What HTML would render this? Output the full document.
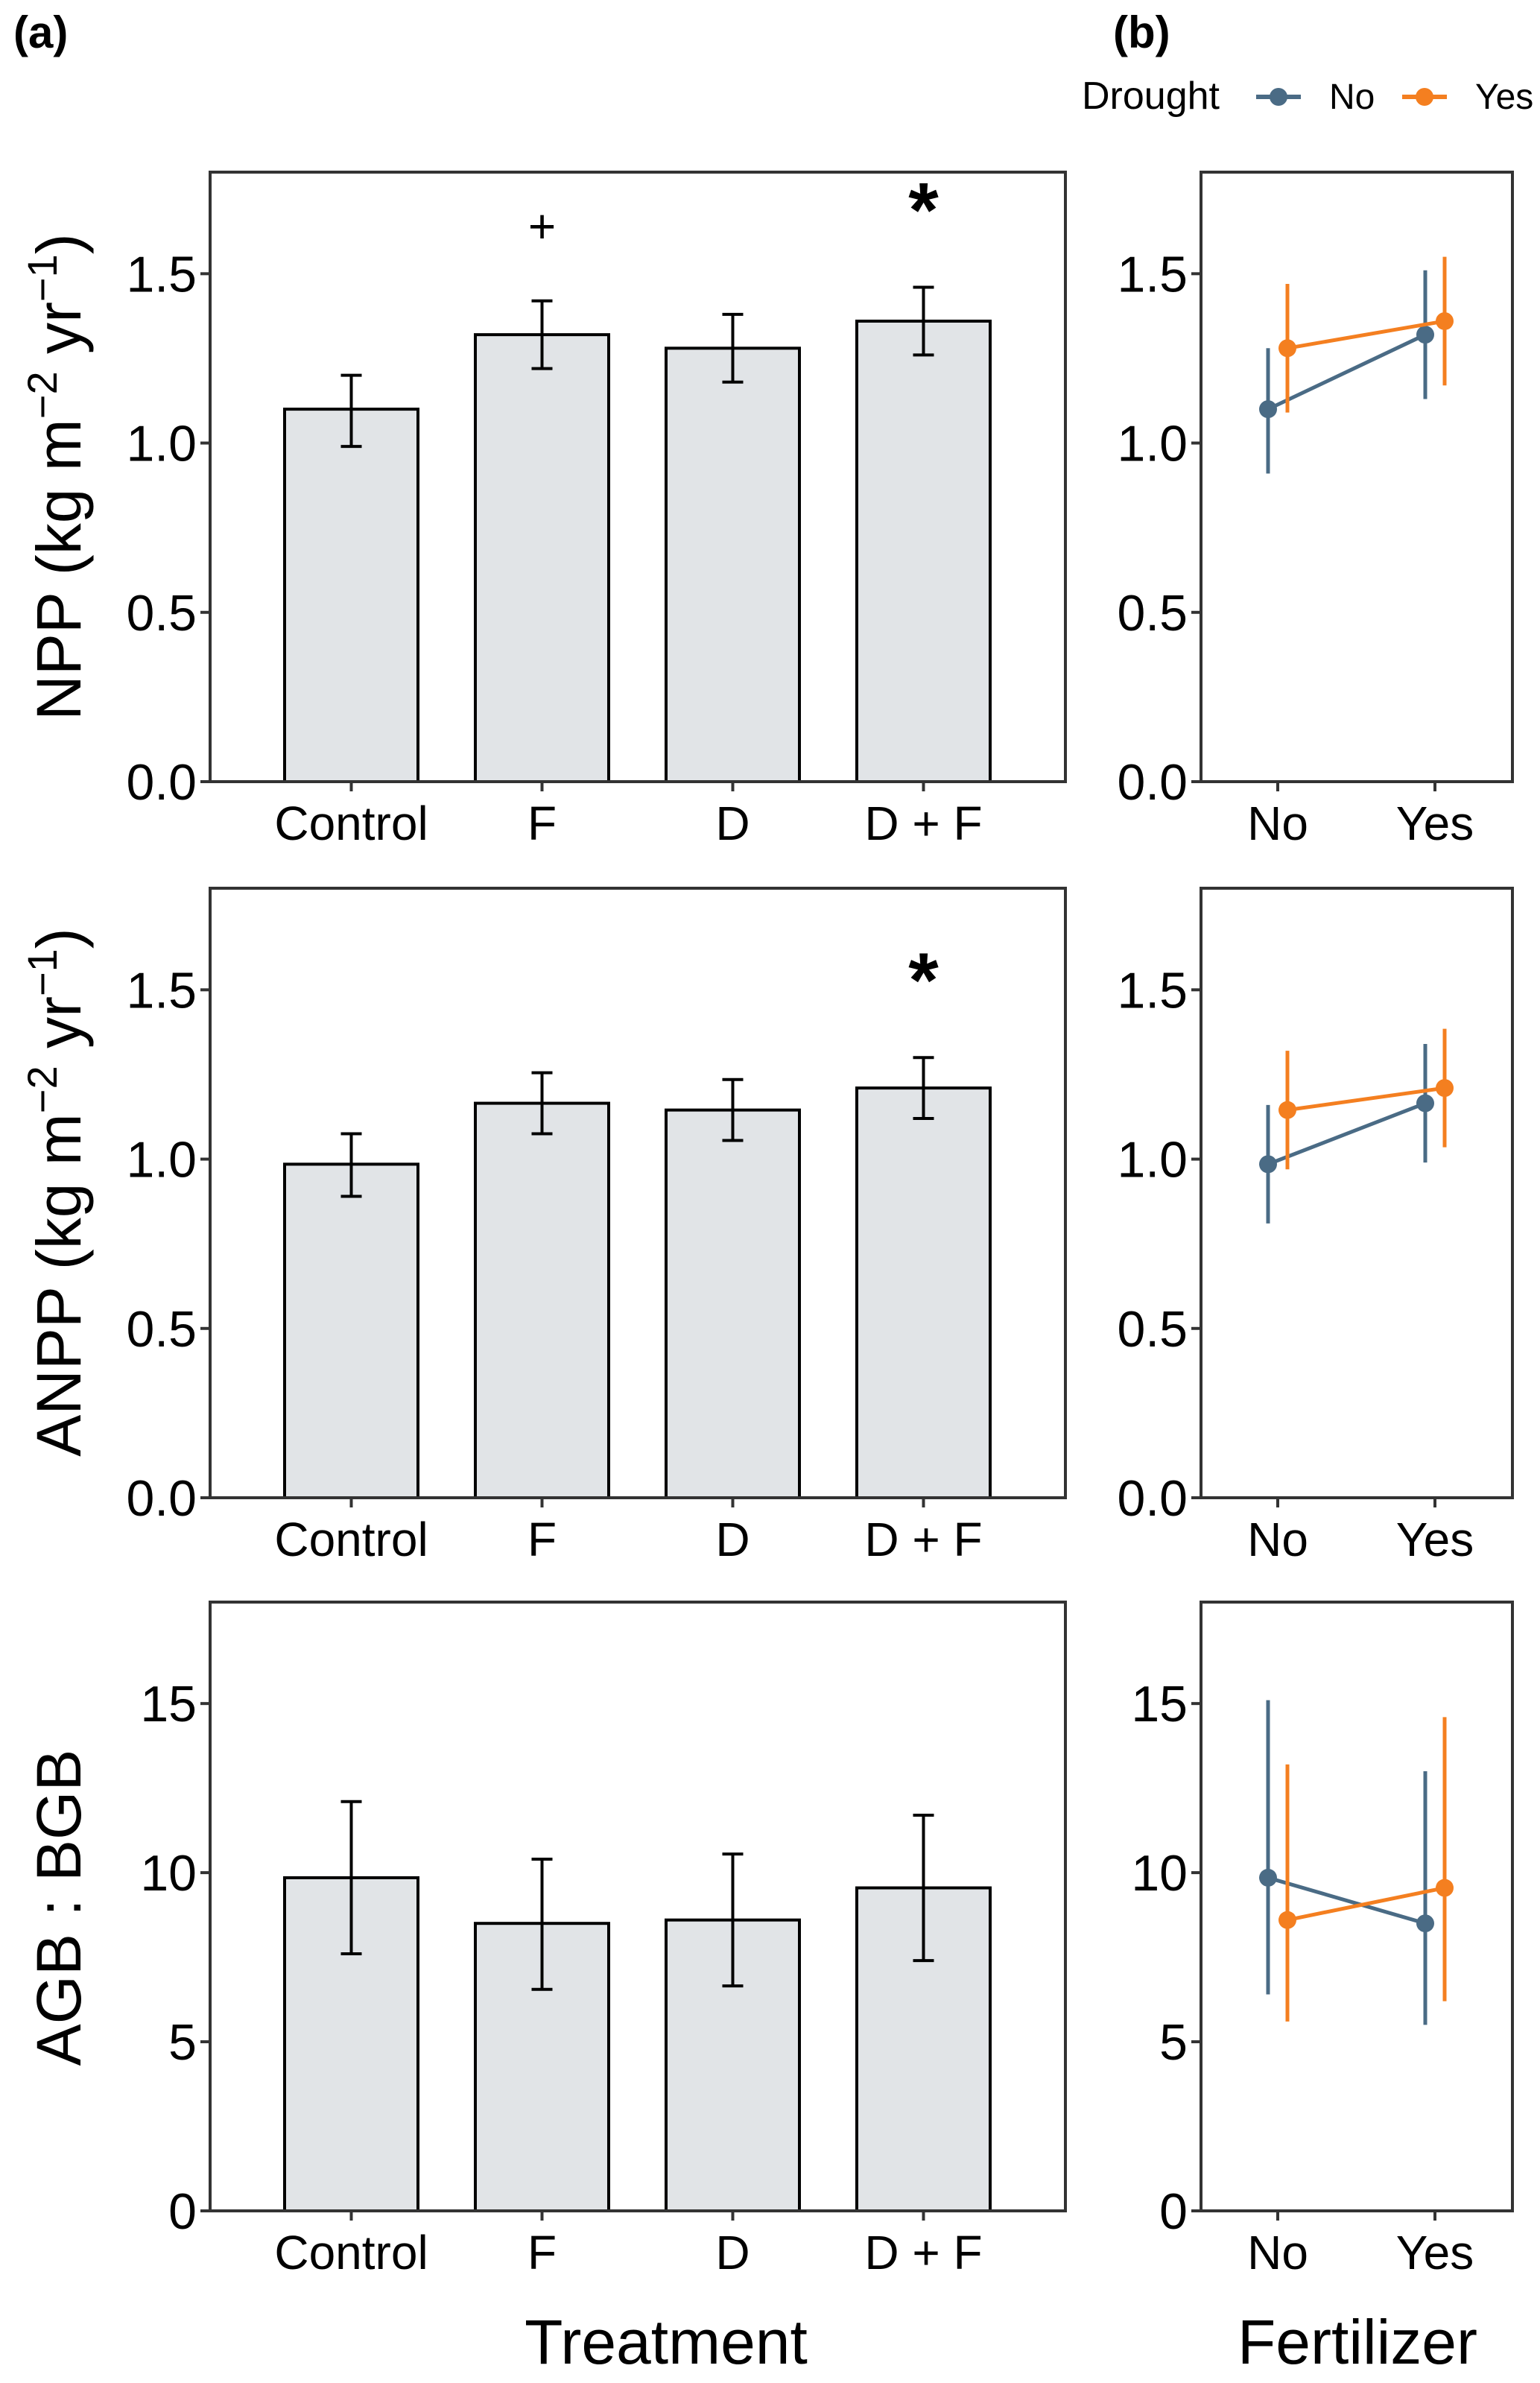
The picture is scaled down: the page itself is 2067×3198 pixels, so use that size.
<!DOCTYPE html>
<html><head><meta charset="utf-8"><style>
body{margin:0;background:#fff}
svg text{font-family:"Liberation Sans Narrow","Liberation Sans",sans-serif}
</style></head><body>
<svg id="fig" width="2067" height="3193" viewBox="0 0 2067 3193" xmlns="http://www.w3.org/2000/svg">
<text x="18" y="64" font-size="60" font-weight="bold">(a)</text>
<text x="1494" y="64" font-size="60" font-weight="bold">(b)</text>
<g>
<text x="1452" y="146" font-size="52">Drought</text>
<line x1="1686" y1="130" x2="1746" y2="130" stroke="#4a6b85" stroke-width="6"/>
<circle cx="1716" cy="130" r="12" fill="#4a6b85"/>
<text x="1784" y="146" font-size="48">No</text>
<line x1="1882" y1="130" x2="1942" y2="130" stroke="#f47f20" stroke-width="6"/>
<circle cx="1912" cy="130" r="12" fill="#f47f20"/>
<text x="1980" y="146" font-size="48">Yes</text>
</g>
<text x="894" y="3172" font-size="84" text-anchor="middle">Treatment</text>
<text x="1822" y="3172" font-size="84" text-anchor="middle">Fertilizer</text>
</svg>
<script>
const categories=["Control","F","D","D + F"];
const nppMean=[1.10,1.32,1.28,1.36];
const nppLo=[0.99,1.22,1.18,1.26];
const nppHi=[1.20,1.42,1.38,1.46];
const anppMean=[0.985,1.165,1.145,1.21];
const anppLo=[0.89,1.075,1.055,1.12];
const anppHi=[1.075,1.255,1.235,1.30];
const ratioMean=[9.85,8.5,8.6,9.55];
const ratioLo=[7.6,6.55,6.65,7.4];
const ratioHi=[12.1,10.4,10.55,11.7];
const fertLevels=["No","Yes"];
const nppNoMean=[1.10,1.32],nppNoLo=[0.91,1.13],nppNoHi=[1.28,1.51];
const nppYesMean=[1.28,1.36],nppYesLo=[1.09,1.17],nppYesHi=[1.47,1.55];
const anppNoMean=[0.985,1.165],anppNoLo=[0.81,0.99],anppNoHi=[1.16,1.34];
const anppYesMean=[1.145,1.21],anppYesLo=[0.97,1.035],anppYesHi=[1.32,1.385];
const ratioNoMean=[9.85,8.5],ratioNoLo=[6.4,5.5],ratioNoHi=[15.1,13.0];
const ratioYesMean=[8.6,9.55],ratioYesLo=[5.6,6.2],ratioYesHi=[13.2,14.6];
const nppTicks=["0.0","0.5","1.0","1.5"],nppTickVals=[0,0.5,1,1.5];
const ratioTicks=["0","5","10","15"],ratioTickVals=[0,5,10,15];
const nppSig=["","+","","*"];
const anppSig=["","","","*"];
const ratioSig=["","","",""];

const NS="http://www.w3.org/2000/svg";
const svg=document.getElementById('fig');
function mk(tag,attrs,parent,text){const e=document.createElementNS(NS,tag);for(const k in attrs)e.setAttribute(k,attrs[k]);if(text!==undefined)e.textContent=text;(parent||svg).appendChild(e);return e;}

const rows=[
 {top:231,zero:1049,max:1.8,mean:nppMean,lo:nppLo,hi:nppHi,ticks:nppTicks,tv:nppTickVals,sig:nppSig,
  nm:[nppNoMean,nppNoLo,nppNoHi],ym:[nppYesMean,nppYesLo,nppYesHi],name:'npp'},
 {top:1192,zero:2010,max:1.8,mean:anppMean,lo:anppLo,hi:anppHi,ticks:nppTicks,tv:nppTickVals,sig:anppSig,
  nm:[anppNoMean,anppNoLo,anppNoHi],ym:[anppYesMean,anppYesLo,anppYesHi],name:'anpp'},
 {top:2150,zero:2967,max:18,mean:ratioMean,lo:ratioLo,hi:ratioHi,ticks:ratioTicks,tv:ratioTickVals,sig:ratioSig,
  nm:[ratioNoMean,ratioNoLo,ratioNoHi],ym:[ratioYesMean,ratioYesLo,ratioYesHi],name:'ratio'}
];
const aL=282,aR=1430,bL=1612,bR=2030;
const catX=i=>471.5+i*256;
const fertX=i=>1715+i*211;
rows.forEach((r,ri)=>{
 const y=v=>r.zero-(v/r.max)*(r.zero-r.top);
 const ga=mk('g',{});
 
 
 r.mean.forEach((m,i)=>{
  const b=mk('rect',{x:catX(i)-89.5,y:y(m),width:179,height:r.zero-y(m),fill:'#e1e4e7',stroke:'#000','stroke-width':4},ga);
  
  
  const e=mk('path',{d:`M${catX(i)-14},${y(r.hi[i])}H${catX(i)+14}M${catX(i)},${y(r.hi[i])}V${y(r.lo[i])}M${catX(i)-14},${y(r.lo[i])}H${catX(i)+14}`,stroke:'#000','stroke-width':4,fill:'none'},ga);
  
  
  if(r.sig[i]){const s=mk('text',{x:catX(i),y:y(r.hi[i])-(r.sig[i]=='*'?68:78),'font-size':r.sig[i]=='*'?104:64,'font-weight':r.sig[i]=='*'?'bold':'normal','text-anchor':'middle','font-family':'Liberation Sans'},ga,r.sig[i]);
   
   }
  const t=mk('line',{x1:catX(i),x2:catX(i),y1:r.zero,y2:r.zero+13,stroke:'#333','stroke-width':4},ga);
  
  
  const l=mk('text',{x:catX(i),y:r.zero+78,'font-size':64,'text-anchor':'middle'},ga,categories[i]);
  
  
 });
 const fa=mk('rect',{x:aL,y:r.top,width:aR-aL,height:r.zero-r.top,fill:'none',stroke:'#333','stroke-width':4},ga);
 
 
 const gb=mk('g',{});
 
 
 [[r.nm,'#4a6b85',-13,'no'],[r.ym,'#f47f20',13,'yes']].forEach(([d,c,off,nm])=>{
  const pts=d[0].map((m,i)=>[fertX(i)+off,y(m)]);
  d[0].forEach((m,i)=>{
   const e=mk('line',{x1:fertX(i)+off,x2:fertX(i)+off,y1:y(d[1][i]),y2:y(d[2][i]),stroke:c,'stroke-width':5},gb);
   
   
  });
  const ln=mk('polyline',{points:pts.map(p=>p.join(',')).join(' '),stroke:c,'stroke-width':5,fill:'none'},gb);
  
  
  pts.forEach((p,i)=>{const ci=mk('circle',{cx:p[0],cy:p[1],r:12,fill:c},gb);
   
   });
 });
 fertLevels.forEach((f,i)=>{
  const t=mk('line',{x1:fertX(i),x2:fertX(i),y1:r.zero,y2:r.zero+13,stroke:'#333','stroke-width':4},gb);
  
  
  const l=mk('text',{x:fertX(i),y:r.zero+78,'font-size':64,'text-anchor':'middle'},gb,f);
  
  
 });
 const fb=mk('rect',{x:bL,y:r.top,width:bR-bL,height:r.zero-r.top,fill:'none',stroke:'#333','stroke-width':4},gb);
 
 
 [aL,bL].forEach(L=>{
  r.tv.forEach((v,k)=>{
   const t=mk('line',{x1:L-13,x2:L,y1:y(v),y2:y(v),stroke:'#333','stroke-width':4});
   
   
   const l=mk('text',{x:L-18,y:y(v)+24,'font-size':68,'text-anchor':'end'},svg,r.ticks[k]);
   
   
  });
 });
});
function ytitle(cy,html,name){
 const t=mk('text',{x:0,y:0,'font-size':84,'text-anchor':'middle',transform:`translate(108,${cy}) rotate(-90)`,'font-family':'Liberation Sans'});
 t.innerHTML=html;
 
 
}
ytitle(640,'NPP (kg m<tspan dy="-32" font-size="56">−2</tspan><tspan dy="32"> yr</tspan><tspan dy="-32" font-size="56">−1</tspan><tspan dy="32">)</tspan>','y-axis-title-npp');
ytitle(1600,'ANPP (kg m<tspan dy="-32" font-size="56">−2</tspan><tspan dy="32"> yr</tspan><tspan dy="-32" font-size="56">−1</tspan><tspan dy="32">)</tspan>','y-axis-title-anpp');
ytitle(2560,'AGB : BGB','y-axis-title-ratio');
</script>
</body></html>
